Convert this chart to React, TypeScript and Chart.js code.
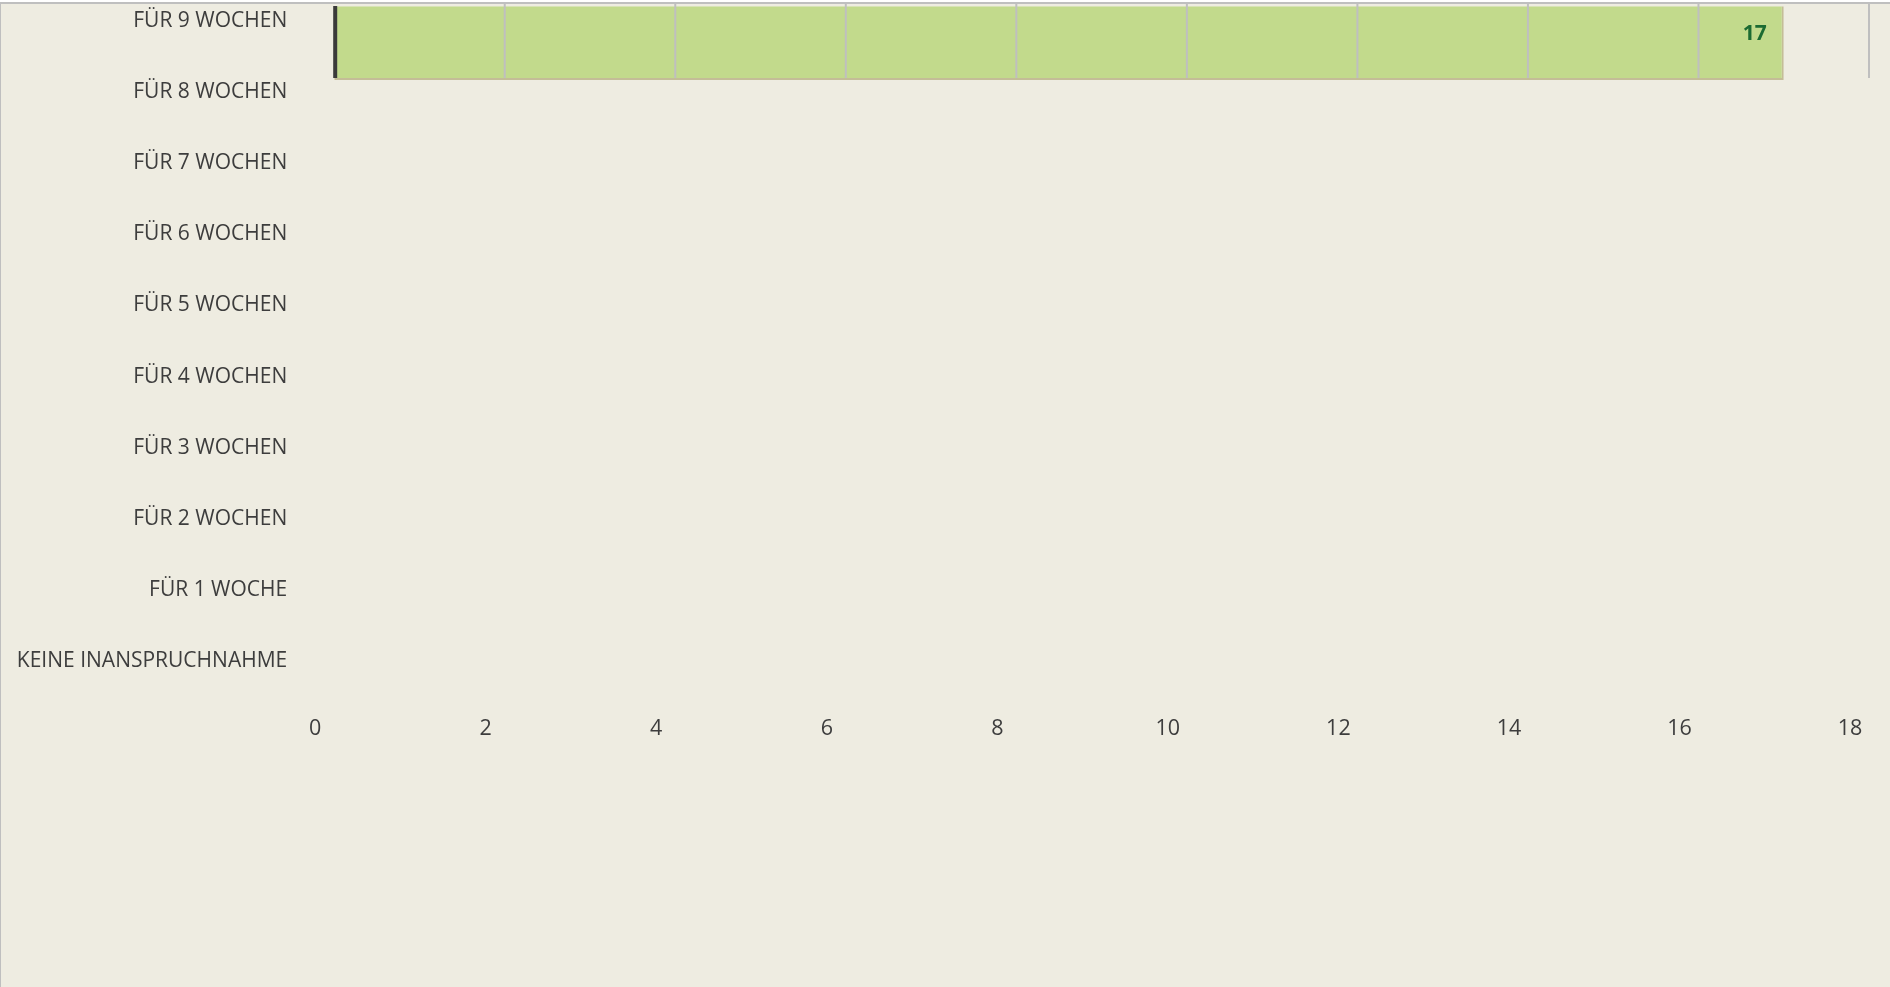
import { useEffect, useRef } from 'react';
import { Chart, registerables } from 'chart.js';

Chart.register(...registerables);

const categories = [
  'FÜR 9 WOCHEN',
  'FÜR 8 WOCHEN',
  'FÜR 7 WOCHEN',
  'FÜR 6 WOCHEN',
  'FÜR 5 WOCHEN',
  'FÜR 4 WOCHEN',
  'FÜR 3 WOCHEN',
  'FÜR 2 WOCHEN',
  'FÜR 1 WOCHE',
  'KEINE INANSPRUCHNAHME',
];
const values = [17, 0, 0, 0, 0, 0, 0, 0, 0, 0];
const xMin = 0;
const xMax = 18;
const xStep = 2;

const FONT = '"Open Sans", "DejaVu Sans", sans-serif';

const decorPlugin = {
  id: 'excelDecor',
  afterDatasetsDraw(chart: any) {
    const ctx = chart.ctx;
    const meta = chart.getDatasetMeta(0);
    const xs = chart.scales.x;
    const data = chart.data.datasets[0].data as number[];
    const first: any = meta.data[0];
    if (!first) return;
    const top = first.y - first.height / 2;
    const bottom = first.y + first.height / 2;
    ctx.save();
    // gridlines (only across the bar band)
    ctx.strokeStyle = '#bfbfbf';
    ctx.lineWidth = 2;
    xs.ticks.forEach((t: any) => {
      if (t.value === xMin) return;
      const px = xs.getPixelForValue(t.value);
      ctx.beginPath();
      ctx.moveTo(px, top);
      ctx.lineTo(px, bottom - 2);
      ctx.stroke();
    });
    // vertical axis line
    const p0 = xs.getPixelForValue(xMin);
    ctx.fillStyle = '#3a3a3a';
    ctx.fillRect(p0 - 1, top + 2, 4, first.height - 4);
    // data labels
    ctx.font = `bold 21px ${FONT}`;
    ctx.fillStyle = '#1c6b32';
    ctx.textAlign = 'right';
    ctx.textBaseline = 'middle';
    meta.data.forEach((bar: any, i: number) => {
      const v = data[i];
      if (!v) return;
      ctx.fillText(String(v), bar.x - 17, bar.y - 8);
    });
    ctx.restore();
  },
};

export default function App() {
  const ref = useRef<HTMLCanvasElement | null>(null);

  useEffect(() => {
    let chart: Chart | null = null;
    let cancelled = false;
    const make = () => {
      if (cancelled || !ref.current) return;
      chart = new Chart(ref.current, {
        type: 'bar',
        data: {
          labels: categories,
          datasets: [
            {
              data: values,
              backgroundColor: '#c2da8c',
              borderColor: '#c4bd97',
              borderWidth: 2,
              borderSkipped: false,
              barPercentage: 76 / 71.1,
              categoryPercentage: 1,
            },
          ],
        },
        options: {
          indexAxis: 'y',
          animation: false,
          responsive: false,
          devicePixelRatio: 1,
          layout: { padding: { top: 2.45, right: 21, left: 0, bottom: 0 } },
          plugins: {
            legend: { display: false },
            tooltip: { enabled: false },
          },
          scales: {
            x: {
              type: 'linear',
              min: xMin,
              max: xMax,
              grid: { display: false, drawTicks: false },
              border: { display: false },
              ticks: {
                stepSize: xStep,
                color: '#3d3d3d',
                font: { family: FONT, size: 21.5, lineHeight: 1 },
                padding: 1,
                labelOffset: -19,
                maxRotation: 0,
                autoSkip: false,
              },
              afterFit: (s: any) => {
                s.height = 269.5;
                s.paddingLeft = 0;
                s.paddingRight = 0;
              },
            },
            y: {
              type: 'category',
              offset: true,
              grid: { display: false, drawTicks: false },
              border: { display: false },
              ticks: {
                color: '#3d3d3d',
                font: { family: FONT, size: 21 },
                padding: 47,
                labelOffset: -21,
                autoSkip: false,
              },
              afterFit: (s: any) => {
                s.width = 333.2;
                s.paddingTop = 0;
                s.paddingBottom = 0;
              },
            },
          },
        },
        plugins: [decorPlugin],
      } as any);
    };
    const fonts: any = (document as any).fonts;
    if (fonts && fonts.load) {
      Promise.all([
        fonts.load(`20px "Open Sans"`),
        fonts.load(`bold 20px "Open Sans"`),
      ]).then(make, make);
    } else {
      make();
    }
    return () => {
      cancelled = true;
      if (chart) chart.destroy();
    };
  }, []);

  return (
    <div style={{ width: 1890, height: 987, boxSizing: 'border-box', paddingTop: 2, background: '#ffffff' }}>
      <style>{`body{margin:0}`}</style>
      <div
        style={{
          height: 985,
          boxSizing: 'border-box',
          borderTop: '2px solid #bfbfbf',
          borderLeft: '1px solid #bfbfbf',
          background: '#eeece1',
        }}
      >
        <canvas ref={ref} width={1889} height={983} style={{ display: 'block' }} />
      </div>
    </div>
  );
}
